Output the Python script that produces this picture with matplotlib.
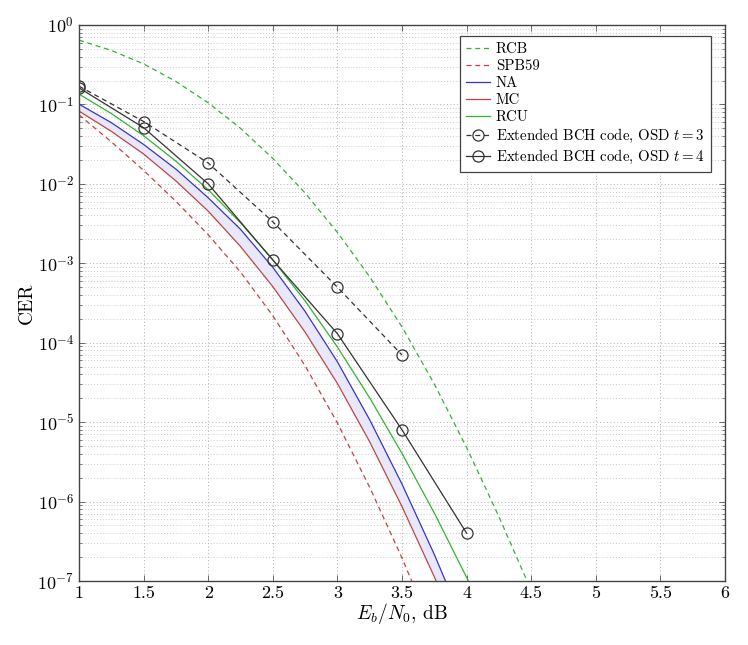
import numpy as np
import matplotlib
matplotlib.use("Agg")
import matplotlib.pyplot as plt

plt.rcParams['font.family'] = ['cmr10', 'DejaVu Serif']
plt.rcParams['mathtext.fontset'] = 'cm'
plt.rcParams['axes.formatter.use_mathtext'] = True
plt.rcParams['axes.unicode_minus'] = False

nan = np.nan
# Eb/N0 (dB) grid used for the analytic curves
ebn0 = [1.0, 1.25, 1.5, 1.75, 2.0, 2.25, 2.5, 2.75, 3.0, 3.25, 3.5, 3.75, 4.0, 4.25, 4.5]

rcb = [0.646, 0.479, 0.324, 0.195, 0.105, 0.0501, 0.0209, 7.67e-3, 2.45e-3, 6.76e-4,
       1.58e-4, 3.02e-5, 4.79e-6, 6.46e-7, 7.59e-8]
spb59 = [0.0741, 0.0339, 0.0148, 6.03e-3, 2.29e-3, 7.76e-4, 2.19e-4, 5.13e-5, 9.77e-6,
         1.51e-6, 1.95e-7, 2.09e-8, nan, nan, nan]
na = [0.101, 0.0590, 0.0314, 0.01535, 6.68e-3, 2.68e-3, 8.91e-4, 2.48e-4, 5.75e-5,
      1.07e-5, 1.66e-6, 2.16e-7, 2.34e-8, nan, nan]
mc = [0.0826, 0.0459, 0.0238, 0.0109, 4.54e-3, 1.63e-3, 5.09e-4, 1.36e-4, 3.07e-5,
      5.65e-6, 8.65e-7, 1.13e-7, 1.22e-8, nan, nan]
rcu = [0.135, 0.0769, 0.0404, 0.0193, 8.43e-3, 3.24e-3, 1.11e-3, 3.36e-4, 8.83e-5,
       2.02e-5, 4.04e-6, 7.18e-7, 1.11e-7, 1.53e-8, nan]

# Simulated OSD points
osd_x3 = [1.0, 1.5, 2.0, 2.5, 3.0, 3.5]
osd_t3 = [0.17, 0.061, 0.0183, 0.00333, 5.0e-4, 7.0e-5]
osd_x4 = [1.0, 1.5, 2.0, 2.5, 3.0, 3.5, 4.0]
osd_t4 = [0.162, 0.051, 0.0100, 0.0011, 1.3e-4, 8.0e-6, 4.0e-7]

xticks = [1, 1.5, 2, 2.5, 3, 3.5, 4, 4.5, 5, 5.5, 6]
xticklabels = ['1', '1.5', '2', '2.5', '3', '3.5', '4', '4.5', '5', '5.5', '6']
ydecades = [-7, -6, -5, -4, -3, -2, -1, 0]

GREEN = '#33b233'
RED = '#c04444'
BLUE = '#3636c8'
BLACK = '#333333'

fig = plt.figure(figsize=(7.48, 6.45), dpi=100)
ax = fig.add_axes([0.1056, 0.0992, 0.8637, 0.862])

ax.fill_between(ebn0, mc, na, color='#e8e8fa', linewidth=0)
ax.plot(ebn0, rcb, ls=(0, (4, 3)), color=GREEN, lw=0.9, label='RCB')
ax.plot(ebn0, spb59, ls=(0, (4, 3)), color=RED, lw=0.9, label='SPB59')
ax.plot(ebn0, na, color=BLUE, lw=0.9, label='NA')
ax.plot(ebn0, mc, color=RED, lw=0.9, label='MC')
ax.plot(ebn0, rcu, color=GREEN, lw=0.9, label='RCU')
ax.plot(osd_x3, osd_t3, ls=(0, (4, 3)), color=BLACK, lw=0.9, marker='o', ms=8,
        mfc='none', mec=BLACK, mew=0.9, label='Extended BCH code, OSD $t=3$')
ax.plot(osd_x4, osd_t4, ls='-', color=BLACK, lw=0.9, marker='o', ms=8,
        mfc='none', mec=BLACK, mew=0.9, label='Extended BCH code, OSD $t=4$')

ax.set_yscale('log')
ax.set_xlim(1, 6)
ax.set_ylim(1e-7, 1)
ax.set_xticks(xticks)
ax.set_xticklabels(xticklabels)
major_y = [10.0 ** d for d in ydecades]
minor_y = [m * 10.0 ** d for d in ydecades[:-1] for m in range(2, 10)]
ax.set_yticks(major_y)
ax.set_yticklabels(['$10^{%d}$' % d for d in ydecades])
ax.set_yticks(minor_y, minor=True)
ax.yaxis.set_minor_formatter(matplotlib.ticker.NullFormatter())

ax.grid(True, which='major', axis='both', ls=(0, (1, 2.5)), color='#b0b0b0', lw=0.7)
ax.grid(True, which='minor', axis='y', ls=(0, (1, 2.5)), color='#b8b8b8', lw=0.6)
ax.set_axisbelow(True)

ax.tick_params(which='both', direction='in', top=True, right=True, labelsize=13)
ax.tick_params(which='major', length=4, width=0.6, color='#555555')
ax.tick_params(which='minor', length=2.5, width=0.5, color='#555555')
for s in ax.spines.values():
    s.set_linewidth(1.0)
    s.set_color('#444444')

ax.set_xlabel('$E_b/N_0$, dB', fontsize=14, labelpad=0)
ax.set_ylabel('CER', fontsize=14, labelpad=1)

leg = ax.legend(loc='upper right', bbox_to_anchor=(0.978, 0.98), fontsize=10.7,
                frameon=True, fancybox=False, edgecolor='#444444', framealpha=1,
                handlelength=1.6, handletextpad=0.4, borderpad=0.4, labelspacing=0.22,
                borderaxespad=0.0)
leg.get_frame().set_linewidth(0.9)

fig.savefig('out.png', dpi=100)
